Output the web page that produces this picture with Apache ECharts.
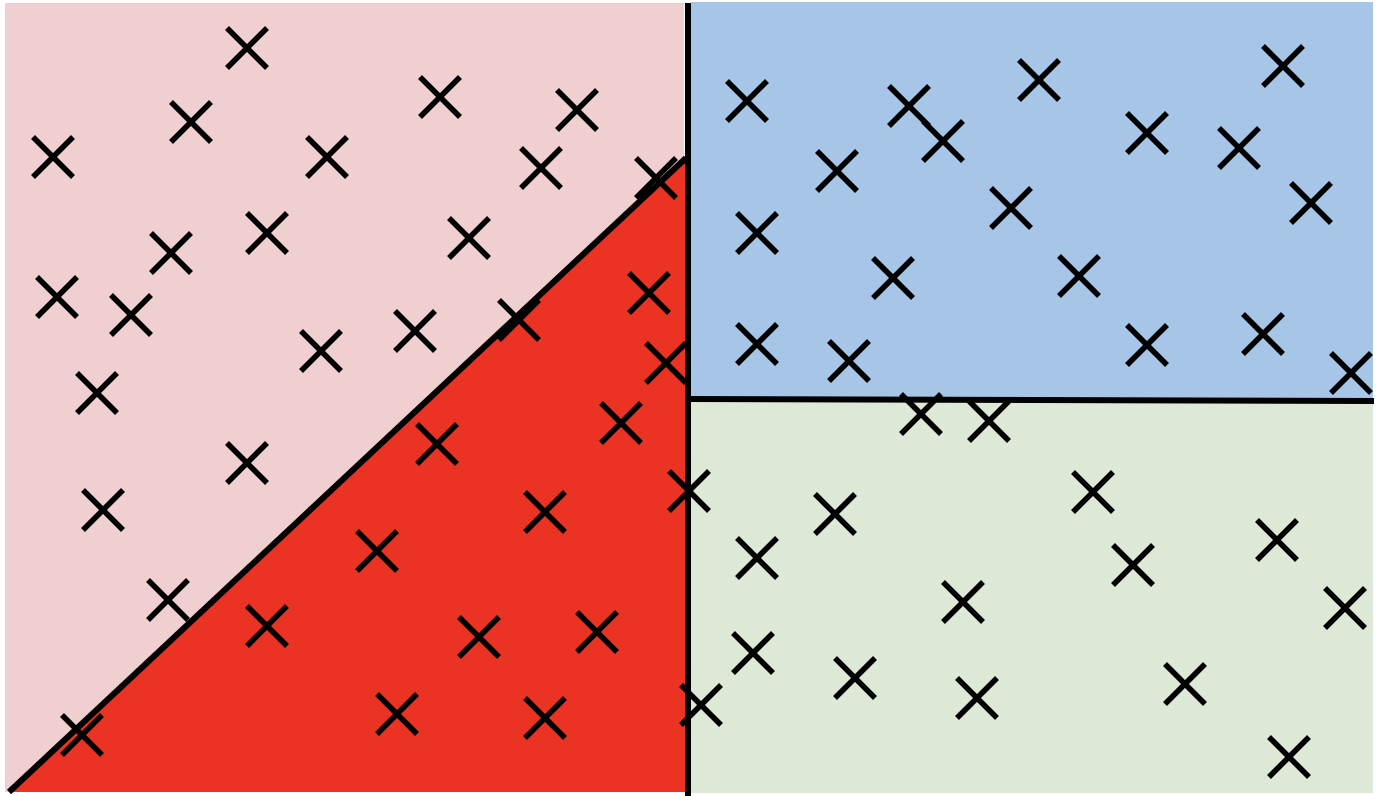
<!DOCTYPE html>
<html>
<head>
<meta charset="utf-8">
<script src="https://cdn.jsdelivr.net/npm/echarts@6/dist/echarts.min.js"></script>
<style>
  html, body { margin: 0; padding: 0; background: #fff; }
  #chart { width: 1376px; height: 796px; }
</style>
</head>
<body>
<div id="chart"></div>
<script>
// region outlines (picture coordinates, y grows downwards)
const pinkRegion  = [[5, 3], [684, 3], [684, 792], [5, 792]];
const redRegion   = [[9, 792], [686, 158], [686, 792]];
const blueRegion  = [[691, 2], [1373, 2], [1373, 399], [691, 399]];
const greenRegion = [[690, 400], [1373, 400], [1373, 793], [690, 793]];

// split lines
const verticalSplit   = [[688, 3], [688, 796]];
const horizontalSplit = [[688, 399], [1374, 401]];
const diagonalSplit   = [[9, 792], [686, 158]];

// sample points (x marks)
const samples = [
  [247, 48], [191, 122], [440, 97], [577, 110], [53, 157], [327, 157],
  [541, 168], [656, 178], [267, 233], [171, 253], [469, 238], [57, 297],
  [131, 315], [321, 351], [415, 331], [519, 320], [97, 393], [247, 463],
  [103, 510], [168, 600], [82, 735],
  [649, 293], [666, 363], [437, 444], [621, 423], [545, 512], [377, 551],
  [267, 626], [479, 637], [597, 632], [397, 714], [545, 718],
  [747, 101], [909, 106], [1039, 80], [1283, 66], [943, 141], [837, 171],
  [1147, 133], [1239, 148], [1011, 208], [1311, 203], [757, 233], [893, 278],
  [1079, 276], [757, 344], [849, 361], [1147, 345], [1263, 334], [1351, 373],
  [921, 414], [989, 421], [689, 491], [1093, 492], [835, 514], [757, 558],
  [1277, 540], [1133, 565], [963, 602], [1345, 608], [753, 653], [855, 678],
  [977, 698], [1185, 684], [701, 705], [1289, 757]
];

let chart = echarts.init(document.getElementById('chart'));

function regionSeries(points, color) {
  return {
    type: 'custom',
    silent: true,
    data: [0],
    renderItem: function (params, api) {
      return {
        type: 'polygon',
        shape: { points: points.map(p => api.coord(p)) },
        style: { fill: color }
      };
    }
  };
}

function splitSeries(points) {
  return {
    type: 'line',
    data: points,
    symbol: 'none',
    silent: true,
    lineStyle: { color: '#000', width: 6 },
    z: 5
  };
}

chart.setOption({
  animation: false,
  backgroundColor: '#fff',
  grid: { left: 0, right: 0, top: 0, bottom: 0 },
  xAxis: { type: 'value', min: 0, max: 1376, show: false },
  yAxis: { type: 'value', min: 0, max: 796, inverse: true, show: false },
  series: [
    regionSeries(pinkRegion, '#EFCFCF'),
    regionSeries(redRegion, '#EB3323'),
    regionSeries(blueRegion, '#A7C5E6'),
    regionSeries(greenRegion, '#DDE8D7'),
    splitSeries(verticalSplit),
    splitSeries(horizontalSplit),
    splitSeries(diagonalSplit),
    {
      type: 'custom',
      silent: true,
      z: 10,
      data: samples,
      renderItem: function (params, api) {
        const c = api.coord([api.value(0), api.value(1)]);
        const h = 20;
        const st = { stroke: '#000', lineWidth: 5.5, lineCap: 'butt' };
        return {
          type: 'group',
          children: [
            { type: 'line', shape: { x1: c[0] - h, y1: c[1] - h, x2: c[0] + h, y2: c[1] + h }, style: st },
            { type: 'line', shape: { x1: c[0] - h, y1: c[1] + h, x2: c[0] + h, y2: c[1] - h }, style: st }
          ]
        };
      }
    }
  ]
});
</script>
</body>
</html>
